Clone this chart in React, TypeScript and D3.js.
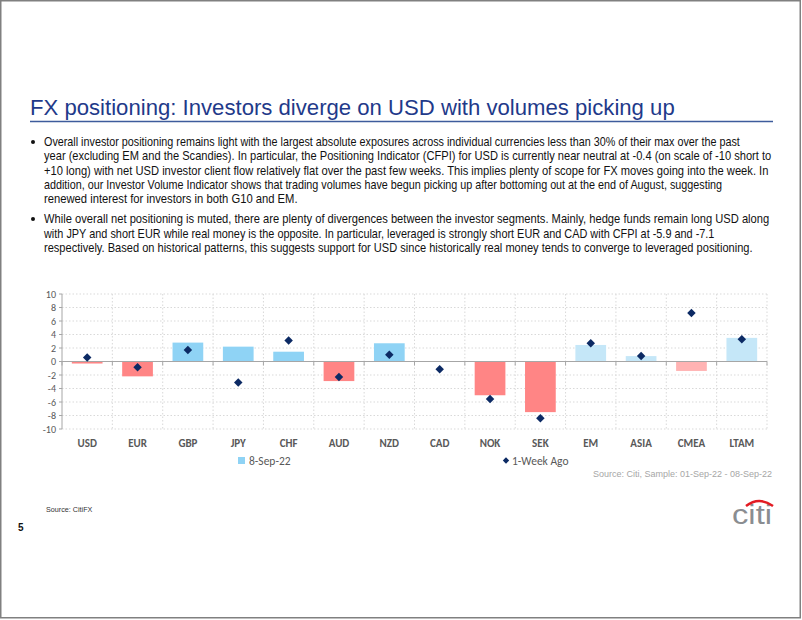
import React from "react";
import * as d3 from "d3";

const categories = ["USD", "EUR", "GBP", "JPY", "CHF", "AUD", "NZD", "CAD", "NOK", "SEK", "EM", "ASIA", "CMEA", "LTAM"];
const current = [-0.3, -2.2, 2.8, 2.2, 1.45, -2.9, 2.7, 0, -5.0, -7.5, 2.45, 0.8, -1.4, 3.5];
const weekAgo = [0.6, -0.85, 1.7, -3.1, 3.1, -2.3, 1.0, -1.15, -5.55, -8.4, 2.7, 0.8, 7.2, 3.3];
const emGroup = ["EM", "ASIA", "CMEA", "LTAM"];
const yTicks = [-10, -8, -6, -4, -2, 0, 2, 4, 6, 8, 10];
const legendLabels = ["8-Sep-22", "1-Week Ago"];

const title = "FX positioning: Investors diverge on USD with volumes picking up";
const para1 = [
  "Overall investor positioning remains light with the largest absolute exposures across individual currencies less than 30% of their max over the past",
  "year (excluding EM and the Scandies). In particular, the Positioning Indicator (CFPI) for USD is currently near neutral at -0.4 (on scale of -10 short to",
  "+10 long) with net USD investor client flow relatively flat over the past few weeks. This implies plenty of scope for FX moves going into the week. In",
  "addition, our Investor Volume Indicator shows that trading volumes have begun picking up after bottoming out at the end of August, suggesting",
  "renewed interest for investors in both G10 and EM.",
];
const para1Ends = [741, 772, 769, 724, 298];
const para2 = [
  "While overall net positioning is muted, there are plenty of divergences between the investor segments. Mainly, hedge funds remain long USD along",
  "with JPY and short EUR while real money is the opposite. In particular, leveraged is strongly short EUR and CAD with CFPI at -5.9 and -7.1",
  "respectively. Based on historical patterns, this suggests support for USD since historically real money tends to converge to leveraged positioning.",
];
const para2Ends = [770, 715, 753];

const BODY_FONT = "'Liberation Sans', Arial, sans-serif";

let ctx: CanvasRenderingContext2D | null = null;
function measure(text: string, size: number, family: string) {
  if (!ctx) ctx = document.createElement("canvas").getContext("2d");
  if (!ctx) return text.length * size * 0.5;
  ctx.font = `${size}px ${family}`;
  return ctx.measureText(text).width;
}

function FitText(props: { text: string; x: number; y: number; width: number; size: number; fill: string; family: string }) {
  const w = measure(props.text, props.size, props.family);
  const s = props.width / w;
  return (
    <text transform={`translate(${props.x},${props.y}) scale(${s},1)`} fontFamily={props.family} fontSize={props.size} fill={props.fill}>
      {props.text}
    </text>
  );
}

export default function App() {
  const left = 62, right = 767, top = 294, bottom = 429;
  const x = d3.scaleBand<string>().domain(categories).range([left, right]).paddingInner(0).paddingOuter(0);
  const y = d3.scaleLinear().domain([-10, 10]).range([bottom, top]);
  const bw = x.bandwidth() * 0.61;
  const chartFont = "Carlito, Lato, 'Liberation Sans', sans-serif";
  const boundaries = categories.map((c) => x(c)!).concat([right]);
  const diamond = d3.symbol().type(d3.symbolDiamond2).size(46)();

  const barColor = (c: string, v: number) => {
    const em = emGroup.includes(c);
    if (v >= 0) return em ? "#C5E7F8" : "#8FD3F5";
    return em ? "#FFB3B3" : "#FF8585";
  };

  return (
    <svg width={802} height={620} style={{ position: "absolute", left: 0, top: 0, background: "#fff" }}>
      <rect x={0.75} y={0.75} width={799.5} height={617} fill="#fff" stroke="#808080" strokeWidth={1.5} />
      <FitText text={title} x={30} y={115} width={645} size={22} fill="#1F3A8A" family={BODY_FONT} />
      <line x1={30} x2={773} y1={121.5} y2={121.5} stroke="#3D5C9C" strokeWidth={1.5} />

      {para1.map((t, i) => (
        <FitText key={"p1" + i} text={t} x={44} y={146 + i * 14.3} width={para1Ends[i] - 44} size={12.5} fill="#111" family={BODY_FONT} />
      ))}
      <circle cx={33} cy={142} r={2} fill="#111" />
      {para2.map((t, i) => (
        <FitText key={"p2" + i} text={t} x={44} y={223 + i * 14.6} width={para2Ends[i] - 44} size={12.5} fill="#111" family={BODY_FONT} />
      ))}
      <circle cx={33} cy={219} r={2} fill="#111" />

      {/* grid */}
      {yTicks.filter((t) => t !== 0).map((t) => (
        <line key={"h" + t} x1={left} x2={right} y1={y(t)} y2={y(t)} stroke="#D9D9D9" strokeDasharray="1.5,2" />
      ))}
      {boundaries.slice(1).map((b, i) => (
        <line key={"v" + i} x1={b} x2={b} y1={top} y2={bottom} stroke="#D9D9D9" strokeDasharray="1.5,2" />
      ))}
      {/* y axis */}
      <line x1={left} x2={left} y1={top} y2={bottom} stroke="#A6A6A6" />
      {yTicks.map((t) => (
        <g key={"yt" + t}>
          <line x1={left - 3} x2={left} y1={y(t)} y2={y(t)} stroke="#A6A6A6" />
          <text x={left - 6} y={y(t) + 3.5} textAnchor="end" fontFamily={chartFont} fontSize={10} fill="#595959">{t}</text>
        </g>
      ))}

      {/* bars */}
      {categories.map((c, i) => {
        const v = current[i];
        if (v === 0) return null;
        const cx = x(c)! + x.bandwidth() / 2;
        return <rect key={"b" + c} x={cx - bw / 2} width={bw} y={Math.min(y(v), y(0))} height={Math.abs(y(v) - y(0))} fill={barColor(c, v)} />;
      })}

      {/* zero line */}
      <line x1={left} x2={right} y1={y(0)} y2={y(0)} stroke="#A6A6A6" />
      {boundaries.map((b, i) => (
        <line key={"zt" + i} x1={b} x2={b} y1={y(0)} y2={y(0) + 4} stroke="#A6A6A6" />
      ))}

      {/* diamonds */}
      {categories.map((c, i) => (
        <path key={"d" + c} d={diamond!} transform={`translate(${x(c)! + x.bandwidth() / 2},${y(weekAgo[i])})`} fill="#0C2A64" />
      ))}

      {/* category labels */}
      {categories.map((c) => (
        <text key={"l" + c} x={x(c)! + x.bandwidth() / 2} y={447} textAnchor="middle" fontFamily={chartFont} fontWeight="bold" fontSize={11} fill="#595959">{c}</text>
      ))}

      {/* legend */}
      <rect x={238} y={457} width={7} height={7} fill="#8FD3F5" />
      <text x={249} y={465} fontFamily={chartFont} fontSize={11.5} fill="#595959">{legendLabels[0]}</text>
      <path d={d3.symbol().type(d3.symbolDiamond2).size(26)()!} transform="translate(506,460.5)" fill="#0C2A64" />
      <text x={512} y={465} fontFamily={chartFont} fontSize={11.5} fill="#595959">{legendLabels[1]}</text>

      <text x={772} y={477} textAnchor="end" fontFamily="'Liberation Sans', Arial, sans-serif" fontSize={9} fill="#A6A6A6">Source: Citi, Sample: 01-Sep-22 - 08-Sep-22</text>

      {/* footer */}
      <text x={46} y={512} fontFamily={BODY_FONT} fontSize={8} fill="#333" transform="translate(46,0) scale(0.9,1) translate(-46,0)">Source: CitiFX</text>
      <text x={18} y={531} fontFamily="'Liberation Sans', Arial, sans-serif" fontWeight="bold" fontSize={10} fill="#111">5</text>

      {/* citi logo */}
      <text x={732} y={524} fontFamily="'Liberation Sans', Arial, sans-serif" fontSize={27} fill="#8A8D91" textLength={40} lengthAdjust="spacingAndGlyphs">citi</text>
      <path d="M746,506 Q759,496 773,506" fill="none" stroke="#E31B23" strokeWidth={2.5} />
    </svg>
  );
}
